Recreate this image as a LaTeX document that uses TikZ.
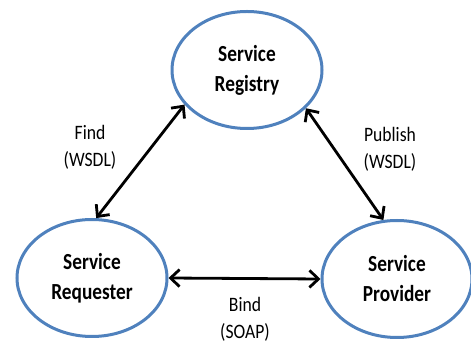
\documentclass[tikz,border=0pt]{standalone}
\usepackage{fontspec}
\setmainfont{Carlito}
\newfontfamily\rolefont[FakeStretch=0.84]{Carlito}
\newfontfamily\msgfont[FakeStretch=0.86]{Carlito}
\usepackage{tikz}
\usetikzlibrary{shapes.geometric,arrows.meta}
\definecolor{soablue}{RGB}{79,129,189}
\tikzstyle{role} = [ellipse,draw=soablue,line width=3pt,fill=white,inner sep=0pt,
  minimum width=150pt,minimum height=117pt,align=center,
  font=\rolefont\bfseries\fontsize{23}{30}\selectfont]
\tikzstyle{msg} = [align=center,inner sep=0pt,font=\msgfont\fontsize{20.5}{27}\selectfont]
\tikzstyle{link} = [draw,line width=2.8pt,{Straight Barb[length=9pt,width=17pt]}-{Straight Barb[length=9pt,width=17pt]}]

\begin{document}
\begin{tikzpicture}[x=1pt,y=1pt]
    \useasboundingbox (0,0) rectangle (471,345);

    \node[role] (reg) at (247,275) {Service\\Registry};
    \node[role] (req) at (92,67) {Service\\Requester};
    \node[role] (prov) at (397,66) {Service\\Provider};

    \node[msg] (find) at (90,198) {Find\\(WSDL)};
    \node[msg] (pub) at (390,196) {Publish\\(WSDL)};
    \node[msg] (bind) at (245,26) {Bind\\(SOAP)};

    \draw[link] (req.86) -- (reg.209);
    \draw[link] (reg.327) -- (prov.103);
    \draw[link] (req.east) -- (prov.west);

\end{tikzpicture}
\end{document}
